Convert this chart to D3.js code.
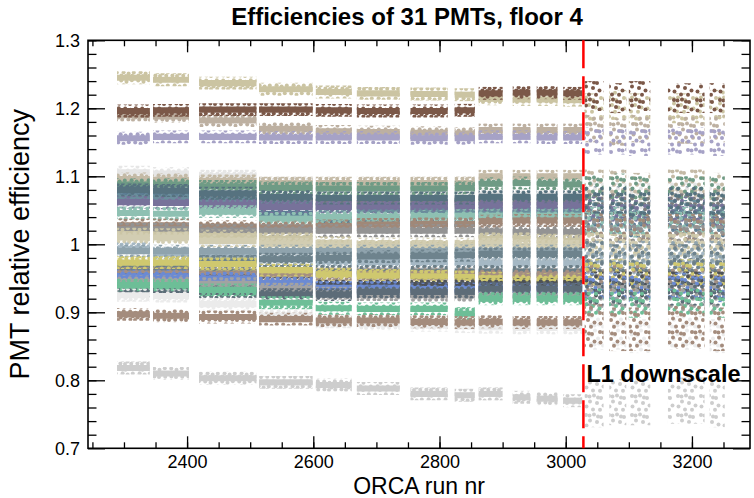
<!DOCTYPE html>
<html>
<head>
<meta charset="utf-8">
<script src="https://cdn.jsdelivr.net/npm/d3@7"></script>
<style>
  body { margin: 0; background: #fff; }
  svg { display: block; font-family: "Liberation Sans", Arial, sans-serif; }
</style>
</head>
<body>
<svg id="chart" width="754" height="498"></svg>
<script>
// run ranges of the data taking periods (gaps between them have no points)
const blockRuns = [
  [2289, 2341], [2346, 2403], [2419, 2510], [2514, 2599], [2604, 2661], [2669, 2737],
  [2754, 2813], [2824, 2856], [2862, 2900], [2916, 2944], [2954, 2987], [2996, 3026],
  [3030, 3060], [3069, 3096], [3100, 3134], [3162, 3220], [3228, 3252]
];
const downscaleRun = 3028;      // L1 downscale starts here
const firstPostBlock = 12;      // first block after the downscale

// relative efficiency of each PMT, one value per block
const pmtLevels = [
  [1.245, 1.242, 1.237, 1.228, 1.224, 1.222, 1.221, 1.220, 1.214, 1.213, 1.213, 1.212, 1.200, 1.205, 1.200, 1.200, 1.205],
  [1.190, 1.188, 1.182, 1.170, 1.166, 1.165, 1.164, 1.163, 1.168, 1.168, 1.168, 1.168, 1.170, 1.165, 1.170, 1.168, 1.170],
  [1.156, 1.158, 1.158, 1.157, 1.157, 1.157, 1.156, 1.156, 1.158, 1.158, 1.157, 1.157, 1.152, 1.152, 1.150, 1.152, 1.150],
  [1.196, 1.197, 1.198, 1.198, 1.197, 1.196, 1.196, 1.197, 1.222, 1.223, 1.223, 1.222, 1.218, 1.215, 1.218, 1.215, 1.215],
  [1.106, 1.104, 1.100, 1.090, 1.080, 1.076, 1.074, 1.073, 1.073, 1.072, 1.072, 1.072, 1.075, 1.070, 1.070, 1.075, 1.070],
  [1.096, 1.095, 1.093, 1.090, 1.090, 1.090, 1.090, 1.090, 1.100, 1.100, 1.100, 1.100, 1.090, 1.090, 1.085, 1.090, 1.085],
  [1.088, 1.088, 1.085, 1.083, 1.082, 1.082, 1.082, 1.083, 1.089, 1.090, 1.089, 1.088, 1.080, 1.082, 1.078, 1.078, 1.078],
  [1.072, 1.070, 1.068, 1.064, 1.062, 1.060, 1.060, 1.060, 1.062, 1.062, 1.062, 1.062, 1.055, 1.055, 1.050, 1.055, 1.050],
  [1.076, 1.075, 1.062, 1.045, 1.036, 1.032, 1.030, 1.030, 1.045, 1.046, 1.046, 1.046, 1.035, 1.035, 1.030, 1.035, 1.030],
  [1.068, 1.067, 1.064, 1.060, 1.056, 1.052, 1.050, 1.050, 1.050, 1.050, 1.050, 1.050, 1.045, 1.045, 1.040, 1.045, 1.040],
  [1.062, 1.061, 1.058, 1.055, 1.055, 1.056, 1.057, 1.057, 1.058, 1.058, 1.058, 1.058, 1.050, 1.050, 1.045, 1.050, 1.045],
  [1.046, 1.045, 1.048, 1.038, 1.040, 1.040, 1.041, 1.042, 1.042, 1.042, 1.042, 1.042, 1.035, 1.035, 1.030, 1.035, 1.035],
  [1.028, 1.028, 1.026, 1.025, 1.027, 1.029, 1.030, 1.030, 1.034, 1.035, 1.035, 1.035, 1.030, 1.025, 1.025, 1.025, 1.025],
  [1.022, 1.022, 1.020, 1.020, 1.020, 1.020, 1.020, 1.020, 1.019, 1.018, 1.018, 1.018, 1.015, 1.015, 1.010, 1.015, 1.010],
  [1.015, 1.014, 1.012, 1.008, 1.002, 1.000, 1.000, 1.000, 1.008, 1.008, 1.006, 1.005, 1.000, 0.995, 0.995, 1.000, 0.995],
  [1.010, 1.010, 1.005, 1.000, 0.998, 0.997, 0.997, 0.997, 1.000, 0.998, 0.998, 0.997, 0.995, 0.990, 0.990, 0.995, 0.990],
  [0.993, 0.987, 0.984, 0.978, 0.975, 0.974, 0.974, 0.974, 0.972, 0.972, 0.972, 0.972, 0.970, 0.970, 0.965, 0.970, 0.965],
  [0.990, 0.990, 0.990, 0.990, 0.990, 0.990, 0.990, 0.990, 0.990, 0.990, 0.990, 0.990, 0.985, 0.985, 0.985, 0.985, 0.985],
  [0.968, 0.968, 0.975, 0.978, 0.980, 0.982, 0.983, 0.984, 0.986, 0.986, 0.986, 0.986, 0.985, 0.980, 0.980, 0.980, 0.980],
  [0.962, 0.962, 0.960, 0.960, 0.960, 0.960, 0.960, 0.960, 0.960, 0.960, 0.960, 0.960, 0.960, 0.955, 0.955, 0.960, 0.955],
  [0.957, 0.957, 0.956, 0.956, 0.956, 0.956, 0.956, 0.956, 0.955, 0.955, 0.955, 0.955, 0.950, 0.950, 0.950, 0.950, 0.950],
  [0.973, 0.973, 0.971, 0.962, 0.956, 0.954, 0.953, 0.952, 0.950, 0.948, 0.948, 0.948, 0.958, 0.958, 0.955, 0.958, 0.955],
  [0.948, 0.948, 0.946, 0.942, 0.940, 0.940, 0.940, 0.940, 0.941, 0.941, 0.941, 0.941, 0.940, 0.940, 0.940, 0.940, 0.940],
  [0.953, 0.953, 0.950, 0.943, 0.936, 0.936, 0.934, 0.934, 0.934, 0.933, 0.933, 0.933, 0.938, 0.938, 0.935, 0.938, 0.935],
  [0.945, 0.945, 0.942, 0.934, 0.928, 0.926, 0.925, 0.925, 0.925, 0.925, 0.925, 0.925, 0.920, 0.920, 0.920, 0.920, 0.920],
  [0.932, 0.932, 0.930, 0.926, 0.926, 0.930, 0.930, 0.930, 0.935, 0.935, 0.935, 0.935, 0.930, 0.930, 0.930, 0.930, 0.930],
  [0.940, 0.940, 0.933, 0.914, 0.906, 0.905, 0.905, 0.898, 0.920, 0.920, 0.920, 0.920, 0.915, 0.915, 0.912, 0.915, 0.912],
  [0.925, 0.924, 0.912, 0.895, 0.886, 0.883, 0.881, 0.879, 0.878, 0.877, 0.877, 0.877, 0.870, 0.870, 0.865, 0.870, 0.865],
  [0.897, 0.895, 0.893, 0.890, 0.888, 0.888, 0.886, 0.885, 0.886, 0.885, 0.885, 0.885, 0.880, 0.875, 0.875, 0.878, 0.875],
  [0.818, 0.810, 0.803, 0.797, 0.793, 0.788, 0.780, 0.778, 0.780, 0.775, 0.773, 0.770, 0.765, 0.768, 0.768, 0.770, 0.765],
  [1.080, 1.079, 1.075, 1.070, 1.068, 1.068, 1.068, 1.068, 1.070, 1.070, 1.070, 1.070, 1.065, 1.065, 1.060, 1.065, 1.060]
];
// half spread of the points around the level: core and outer scatter before the
// downscale, and the scatter of each PMT after it
const preSpread = [0.0045, 0.0095];
const postSpread = [
  0.022, 0.02, 0.02, 0.022, 0.02, 0.02, 0.022, 0.02, 0.02, 0.02, 0.02, 0.02, 0.02, 0.02, 0.02, 0.02,
  0.02, 0.02, 0.02, 0.02, 0.02, 0.02, 0.02, 0.02, 0.02, 0.02, 0.02, 0.025, 0.032, 0.034, 0.02
];
const pmtColors = [
  "#cbc4a2", "#bdb0a1", "#a6a2c6", "#7b5848", "#e6e6e6", "#c4baa6", "#6f9b85", "#7d7d7d",
  "#5b7c93", "#6a8e9c", "#77729a", "#8ec0b2", "#a08878", "#939393", "#cbc5a5", "#d2cdb2",
  "#a5b8c4", "#8fa3ad", "#6e838d", "#6b7e87", "#a48f82", "#cfc86f", "#4e5258", "#6b8ad3",
  "#a2a2a2", "#5d6c78", "#6dbe97", "#ebebeb", "#a48c7d", "#cdcdcd", "#56727f"
];

const xTicks = [2400, 2600, 2800, 3000, 3200];
const xMinorTicks = d3.range(2250, 3300, 50);
const yTicks = [0.7, 0.8, 0.9, 1.0, 1.1, 1.2, 1.3];
const yTickLabels = ["0.7", "0.8", "0.9", "1", "1.1", "1.2", "1.3"];
const yMinorTicks = d3.range(0.72, 1.3, 0.02);

// dot positions inside one texture tile (marker look only)
const fringeTile = [17, 13];
const fringeDots = [[2.2, 2.5], [7.5, 3.8], [12.8, 2.2], [14.8, 7.4], [4.6, 7.2], [9.6, 8.6], [13.2, 10.8], [2.4, 10.6], [7.0, 11.0]];
const postTile = [23, 19];
const postDots = [[3, 3], [11, 2.5], [18, 5], [7, 8.5], [14, 10], [20.5, 12.5], [3.5, 13.5], [10, 16.5], [17, 16.8], [6.5, 3.5], [15, 4.5]];

const svg = d3.select("#chart");
const plotL = 88, plotR = 750, plotT = 40.3, plotB = 448.3;

const x = d3.scaleLinear().domain([2243, 3292]).range([plotL, plotR]);
const y = d3.scaleLinear().domain([0.7, 1.3]).range([plotB, plotT]);

const defs = svg.append("defs");

function addPattern(id, tile, dots, dx, dy, color) {
  const p = defs.append("pattern")
    .attr("id", id)
    .attr("patternUnits", "userSpaceOnUse")
    .attr("width", tile[0]).attr("height", tile[1])
    .attr("patternTransform", `translate(${dx},${dy})`);
  dots.forEach(d => p.append("circle")
    .attr("cx", d[0]).attr("cy", d[1]).attr("r", 2).attr("fill", color));
}

pmtColors.forEach((c, i) => {
  addPattern("fringe" + i, fringeTile, fringeDots, (i * 7) % 17, (i * 5) % 13, c);
  addPattern("post" + i, postTile, postDots, (i * 9) % 23, (i * 7) % 19, c);
});

// bands per PMT and block: the points of that block lie in them
const area = d3.area()
  .x(d => x(d.run))
  .y0(d => y(d.v - d.hw))
  .y1(d => y(d.v + d.hw));

function band(g, b, v, hw, fill) {
  g.append("path")
    .attr("d", area([{ run: b[0], v: v, hw: hw }, { run: b[1], v: v, hw: hw }]))
    .attr("fill", fill);
}

const bands = svg.append("g");

pmtLevels.forEach((levels, i) => {
  blockRuns.forEach((b, k) => {
    if (k >= firstPostBlock) {
      band(bands, b, levels[k], postSpread[i], `url(#post${i})`);
    } else {
      band(bands, b, levels[k], preSpread[1], `url(#fringe${i})`);
      band(bands, b, levels[k], preSpread[0], pmtColors[i]);
    }
  });
});

// axes, ROOT style: ticks inside on all four sides
function styleAxis(g) {
  g.select(".domain").remove();
  g.selectAll(".tick line").attr("stroke", "#000").attr("stroke-width", 1.3);
  g.selectAll("text").attr("fill", "#000").attr("font-size", 18);
}

svg.append("g").attr("transform", `translate(0,${plotB})`)
  .call(d3.axisBottom(x).tickValues(xMinorTicks).tickSize(-6).tickFormat(""))
  .call(styleAxis);
svg.append("g").attr("transform", `translate(0,${plotB})`)
  .call(d3.axisBottom(x).tickValues(xTicks).tickSize(-12).tickPadding(7).tickFormat(d3.format("d")))
  .call(styleAxis);
svg.append("g").attr("transform", `translate(0,${plotT})`)
  .call(d3.axisTop(x).tickValues(xMinorTicks).tickSize(-6).tickFormat(""))
  .call(styleAxis);
svg.append("g").attr("transform", `translate(0,${plotT})`)
  .call(d3.axisTop(x).tickValues(xTicks).tickSize(-12).tickFormat(""))
  .call(styleAxis);

svg.append("g").attr("transform", `translate(${plotL},0)`)
  .call(d3.axisLeft(y).tickValues(yMinorTicks).tickSize(-8.5).tickFormat(""))
  .call(styleAxis);
svg.append("g").attr("transform", `translate(${plotL},0)`)
  .call(d3.axisLeft(y).tickValues(yTicks).tickSize(-17).tickPadding(8)
    .tickFormat((d, i) => yTickLabels[i]))
  .call(styleAxis);
svg.append("g").attr("transform", `translate(${plotR},0)`)
  .call(d3.axisRight(y).tickValues(yMinorTicks).tickSize(-8.5).tickFormat(""))
  .call(styleAxis);
svg.append("g").attr("transform", `translate(${plotR},0)`)
  .call(d3.axisRight(y).tickValues(yTicks).tickSize(-17).tickFormat(""))
  .call(styleAxis);

svg.append("rect")
  .attr("x", plotL).attr("y", plotT)
  .attr("width", plotR - plotL).attr("height", plotB - plotT)
  .attr("fill", "none").attr("stroke", "#000").attr("stroke-width", 1.6);

// downscale marker
svg.append("line")
  .attr("x1", x(downscaleRun)).attr("x2", x(downscaleRun))
  .attr("y1", plotT).attr("y2", plotB)
  .attr("stroke", "#ff0000").attr("stroke-width", 2.5)
  .attr("stroke-dasharray", "28,8");

svg.append("text")
  .attr("x", x(downscaleRun) + 3).attr("y", 382)
  .attr("font-size", 23.5).attr("font-weight", "bold")
  .text("L1 downscale");

// titles
svg.append("text")
  .attr("x", 407).attr("y", 25)
  .attr("text-anchor", "middle")
  .attr("font-size", 24).attr("font-weight", "bold")
  .text("Efficiencies of 31 PMTs, floor 4");

svg.append("text")
  .attr("x", (plotL + plotR) / 2).attr("y", 494)
  .attr("text-anchor", "middle")
  .attr("font-size", 23)
  .text("ORCA run nr");

svg.append("text")
  .attr("transform", `translate(29,${(plotT + plotB) / 2}) rotate(-90)`)
  .attr("text-anchor", "middle")
  .attr("font-size", 27)
  .text("PMT relative efficiency");
</script>
</body>
</html>
